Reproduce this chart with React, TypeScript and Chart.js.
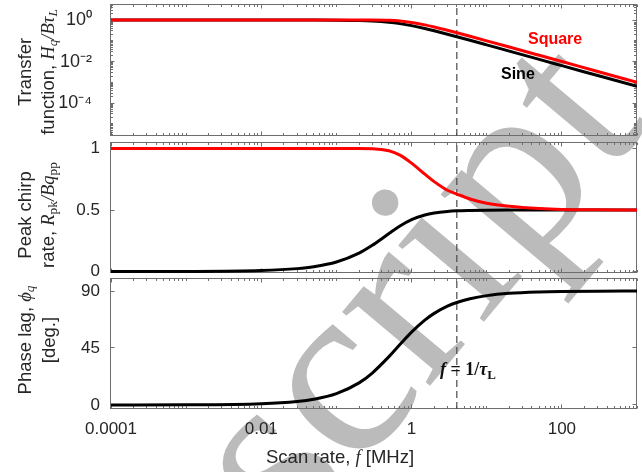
import React, { useEffect, useRef } from 'react';
import { Chart, registerables } from 'chart.js';

Chart.register(...registerables);

// ---------------- data ----------------
const freqMHz = [0.0001, 0.001, 0.01, 0.03, 0.05, 0.1, 0.2, 0.3, 0.5, 0.7, 1, 1.5, 2, 3, 4, 6, 10, 20, 50, 100, 300, 1000];
const transferSquare = [1, 1, 1, 1, 1, 1, 0.9999, 0.9975, 0.964, 0.891, 0.7616, 0.583, 0.4621, 0.3215, 0.2449, 0.165, 0.0997, 0.04996, 0.02, 0.01, 0.00333, 0.001];
const transferSine = [1, 1, 1, 0.9989, 0.997, 0.988, 0.954, 0.9046, 0.7864, 0.673, 0.537, 0.3907, 0.3033, 0.2076, 0.1572, 0.1055, 0.0635, 0.0318, 0.01273, 0.006366, 0.002122, 0.0006366];
const chirpSquare = [1, 1, 1, 1, 1, 1, 1, 0.999, 0.982, 0.946, 0.881, 0.792, 0.731, 0.661, 0.63, 0.59, 0.555, 0.53, 0.512, 0.505, 0.502, 0.5];
const chirpSine = [0.0001, 0.0008, 0.0079, 0.0236, 0.0391, 0.0776, 0.15, 0.213, 0.309, 0.37, 0.422, 0.46, 0.476, 0.489, 0.494, 0.497, 0.499, 0.5, 0.5, 0.5, 0.5, 0.5];
const phaseLagSine = [0.01, 0.09, 0.9, 2.7, 4.49, 8.92, 17.44, 25.23, 38.15, 47.71, 57.52, 67.0, 72.34, 78.02, 80.96, 83.94, 86.36, 88.18, 89.27, 89.64, 89.88, 89.96];
const cutoffFreqMHz = 4; // f = 1/tau_L

const xRange = [1e-4, 1000];
const xTickValues = [1e-4, 1e-2, 1, 100];
const xTickLabels = ['0.0001', '0.01', '1', '100'];
const transferRange = [2.6e-6, 5.3];
const transferTickValues = [1e-4, 1e-2, 1];
const transferTickLabels = ['10\u207B\u2074', '10\u207B\u00B2', '10\u2070'];
const chirpRange = [-0.012, 1.045];
const chirpTickValues = [0, 0.5, 1];
const chirpTickLabels = ['0', '0.5', '1'];
const phaseRange = [-3.2, 99.5];
const phaseTickValues = [0, 45, 90];
const phaseTickLabels = ['0', '45', '90'];

// ---------------- layout / style ----------------
const W = 642;
const H = 472;
const PLOT_LEFT = 111;
const PLOT_RIGHT = 637;
const X_AXIS_H = 40;
const PANELS = [
  { top: 5, bottom: 136 },
  { top: 143, bottom: 273 },
  { top: 279, bottom: 409 },
];
const RED = '#ff0000';
const BLACK = '#000000';
const AXIS_COLOR = '#6e6e6e';
const TEXT_COLOR = '#262626';
const SANS = '"Liberation Sans", Arial, Helvetica, sans-serif';
const SERIF = '"Liberation Serif", "DejaVu Serif", "Times New Roman", serif';

function logMinorTicks(min: number, max: number): number[] {
  const out: number[] = [];
  for (let e = Math.floor(Math.log10(min)); e <= Math.ceil(Math.log10(max)); e++) {
    for (let k = 1; k <= 9; k++) {
      const v = k * Math.pow(10, e);
      if (v >= min && v <= max) out.push(v);
    }
  }
  return out;
}

function boxPlugin(xMajor: number[], xMinor: number[], yMajor: number[], yMinor: number[]) {
  return {
    id: 'boxTicks',
    beforeDatasetsDraw(chart: any) {
      const { ctx, chartArea: a } = chart;
      const xs = chart.scales.x;
      const ys = chart.scales.y;
      const L = Math.round(a.left) - 0.5;
      const R = Math.round(a.right) - 0.5;
      const T = Math.round(a.top) - 0.5;
      const B = Math.round(a.bottom) - 0.5;
      ctx.save();
      ctx.strokeStyle = AXIS_COLOR;
      ctx.lineWidth = 1;
      ctx.strokeRect(L, T, R - L, B - T);
      ctx.beginPath();
      const vt = (v: number, len: number) => {
        const p = Math.floor(xs.getPixelForValue(v)) + 0.5;
        ctx.moveTo(p, B); ctx.lineTo(p, B - len);
        ctx.moveTo(p, T); ctx.lineTo(p, T + len);
      };
      const ht = (v: number, len: number) => {
        const p = Math.floor(ys.getPixelForValue(v)) + 0.5;
        ctx.moveTo(L, p); ctx.lineTo(L + len, p);
        ctx.moveTo(R, p); ctx.lineTo(R - len, p);
      };
      xMinor.forEach((v) => vt(v, 2.5));
      xMajor.forEach((v) => vt(v, 4));
      yMinor.forEach((v) => ht(v, 2.5));
      yMajor.forEach((v) => ht(v, 4));
      ctx.stroke();
      ctx.restore();
    },
  };
}

function series(ys: number[]) {
  return freqMHz.map((f, i) => ({ x: f, y: ys[i] }));
}

function dashedCutoff(range: number[]) {
  return {
    label: 'f = 1/τL',
    data: [{ x: cutoffFreqMHz, y: range[0] }, { x: cutoffFreqMHz, y: range[1] }],
    borderColor: '#4a4a4a',
    borderWidth: 1.2,
    borderDash: [7, 4],
    cubicInterpolationMode: 'default',
    tension: 0,
    clip: false,
  };
}

function makeConfig(opts: any) {
  const { datasets, yType, yRange, yTicks, yLabels, yMinor, panel, showX, yPad, yFontSize } = opts;
  const zeroPad = (s: any) => {
    s.paddingTop = 0; s.paddingBottom = 0; s.paddingLeft = 0; s.paddingRight = 0;
  };
  return {
    type: 'line',
    data: { datasets },
    options: {
      animation: false,
      responsive: false,
      devicePixelRatio: 1,
      events: [],
      layout: {
        padding: {
          left: 0,
          right: W - PLOT_RIGHT,
          top: panel.top,
          bottom: H - panel.bottom - (showX ? X_AXIS_H : 0),
        },
      },
      plugins: { legend: { display: false }, tooltip: { enabled: false } },
      elements: {
        point: { radius: 0 },
        line: { cubicInterpolationMode: 'monotone', borderCapStyle: 'butt' },
      },
      scales: {
        x: {
          type: 'logarithmic',
          min: xRange[0],
          max: xRange[1],
          display: showX,
          grid: { display: false, drawTicks: false },
          border: { display: false },
          ticks: {
            autoSkip: false,
            maxRotation: 0,
            padding: 10,
            color: TEXT_COLOR,
            font: { family: SANS, size: 17 },
            callback: (_v: any, i: number) => xTickLabels[i],
          },
          afterBuildTicks: (s: any) => { s.ticks = xTickValues.map((v) => ({ value: v })); },
          afterFit: (s: any) => { if (showX) s.height = X_AXIS_H; zeroPad(s); },
        },
        y: {
          type: yType,
          min: yRange[0],
          max: yRange[1],
          grid: { display: false, drawTicks: false },
          border: { display: false },
          ticks: {
            autoSkip: false,
            padding: yPad,
            color: TEXT_COLOR,
            font: { family: SANS, size: yFontSize },
            callback: (_v: any, i: number) => yLabels[i],
          },
          afterBuildTicks: (s: any) => { s.ticks = yTicks.map((v: number) => ({ value: v })); },
          afterFit: (s: any) => { s.width = PLOT_LEFT; zeroPad(s); },
        },
      },
    },
    plugins: [boxPlugin(xTickValues, logMinorTicks(xRange[0], xRange[1]), yTicks, yMinor)],
  };
}

const sub = { fontSize: '0.72em', verticalAlign: '-0.3em', lineHeight: 0 } as React.CSSProperties;
const mathI = { fontFamily: SERIF, fontStyle: 'italic' } as React.CSSProperties;
const mathR = { fontFamily: SERIF, fontStyle: 'normal' } as React.CSSProperties;

function YTitle({ cx, cy, children }: { cx: number; cy: number; children: React.ReactNode }) {
  return (
    <div
      style={{
        position: 'absolute',
        left: cx,
        top: cy,
        transform: 'translate(-50%, -50%) rotate(-90deg)',
        whiteSpace: 'nowrap',
        textAlign: 'center',
        fontSize: 18.5,
        lineHeight: '23px',
        color: TEXT_COLOR,
      }}
    >
      {children}
    </div>
  );
}

export default function App() {
  const c1 = useRef<HTMLCanvasElement>(null);
  const c2 = useRef<HTMLCanvasElement>(null);
  const c3 = useRef<HTMLCanvasElement>(null);

  useEffect(() => {
    const charts: Chart[] = [];
    const common = { borderWidth: 3, fill: false };
    charts.push(
      new Chart(c1.current as HTMLCanvasElement, makeConfig({
        datasets: [
          { label: 'Square', data: series(transferSquare), borderColor: RED, ...common },
          { label: 'Sine', data: series(transferSine), borderColor: BLACK, ...common },
          dashedCutoff(transferRange),
        ],
        yType: 'logarithmic',
        yRange: transferRange,
        yTicks: transferTickValues,
        yLabels: transferTickLabels,
        yMinor: logMinorTicks(transferRange[0], transferRange[1]),
        panel: PANELS[0],
        showX: false,
        yPad: 19,
        yFontSize: 18,
      }) as any)
    );
    charts.push(
      new Chart(c2.current as HTMLCanvasElement, makeConfig({
        datasets: [
          { label: 'Square', data: series(chirpSquare), borderColor: RED, ...common },
          { label: 'Sine', data: series(chirpSine), borderColor: BLACK, ...common },
          dashedCutoff(chirpRange),
        ],
        yType: 'linear',
        yRange: chirpRange,
        yTicks: chirpTickValues,
        yLabels: chirpTickLabels,
        yMinor: [],
        panel: PANELS[1],
        showX: false,
        yPad: 11,
        yFontSize: 17,
      }) as any)
    );
    charts.push(
      new Chart(c3.current as HTMLCanvasElement, makeConfig({
        datasets: [
          { label: 'Sine', data: series(phaseLagSine), borderColor: BLACK, ...common },
          dashedCutoff(phaseRange),
        ],
        yType: 'linear',
        yRange: phaseRange,
        yTicks: phaseTickValues,
        yLabels: phaseTickLabels,
        yMinor: [],
        panel: PANELS[2],
        showX: true,
        yPad: 11,
        yFontSize: 17,
      }) as any)
    );
    return () => charts.forEach((c) => c.destroy());
  }, []);

  const canvasStyle = { position: 'absolute', left: 0, top: 0, display: 'block' } as React.CSSProperties;

  return (
    <div
      style={{
        position: 'fixed',
        left: 0,
        top: 0,
        width: W,
        height: H,
        overflow: 'hidden',
        background: '#ffffff',
        fontFamily: SANS,
        color: TEXT_COLOR,
      }}
    >
      <svg width={W} height={H} style={{ position: 'absolute', left: 0, top: 0 }}>
        <text
          x={293}
          y={549}
          transform="rotate(-50 293 549)"
          fontFamily={SERIF}
          fontSize={250}
          fill="#bbbbbb"
        >
          script
        </text>
      </svg>
      <canvas ref={c1} width={W} height={H} style={canvasStyle} />
      <canvas ref={c2} width={W} height={H} style={canvasStyle} />
      <canvas ref={c3} width={W} height={H} style={canvasStyle} />

      <YTitle cx={35.5} cy={72}>
        <div>Transfer</div>
        <div>
          function, <span style={mathI}>H<sub style={sub}>q</sub>/Bτ<sub style={sub}>L</sub></span>
        </div>
      </YTitle>
      <YTitle cx={35.5} cy={215}>
        <div>Peak chirp</div>
        <div>
          rate, <span style={mathI}>R</span><sub style={{ ...sub, ...mathR }}>pk</sub>
          <span style={mathI}>/Bq</span><sub style={{ ...sub, ...mathR }}>pp</sub>
        </div>
      </YTitle>
      <YTitle cx={35.5} cy={340}>
        <div>
          Phase lag, <span style={mathI}>ϕ<sub style={sub}>q</sub></span>
        </div>
        <div>[deg.]</div>
      </YTitle>

      <div
        style={{
          position: 'absolute',
          left: 266,
          top: 457,
          transform: 'translateY(-50%)',
          fontSize: 18.5,
          lineHeight: 1,
          whiteSpace: 'nowrap',
        }}
      >
        Scan rate, <span style={mathI}>f</span> [MHz]
      </div>

      <div
        style={{
          position: 'absolute',
          left: 528,
          top: 39,
          transform: 'translateY(-50%)',
          fontSize: 16,
          lineHeight: 1,
          fontWeight: 'bold',
          color: RED,
        }}
      >
        Square
      </div>
      <div
        style={{
          position: 'absolute',
          left: 501,
          top: 74,
          transform: 'translateY(-50%)',
          fontSize: 16,
          lineHeight: 1,
          fontWeight: 'bold',
          color: BLACK,
        }}
      >
        Sine
      </div>

      <div
        style={{
          position: 'absolute',
          left: 440,
          top: 369,
          transform: 'translateY(-50%)',
          fontFamily: SERIF,
          fontWeight: 'bold',
          fontSize: 18,
          lineHeight: 1,
          whiteSpace: 'nowrap',
          color: '#111',
        }}
      >
        <i>f</i> = 1/<i>τ</i><sub style={sub}>L</sub>
      </div>
    </div>
  );
}
